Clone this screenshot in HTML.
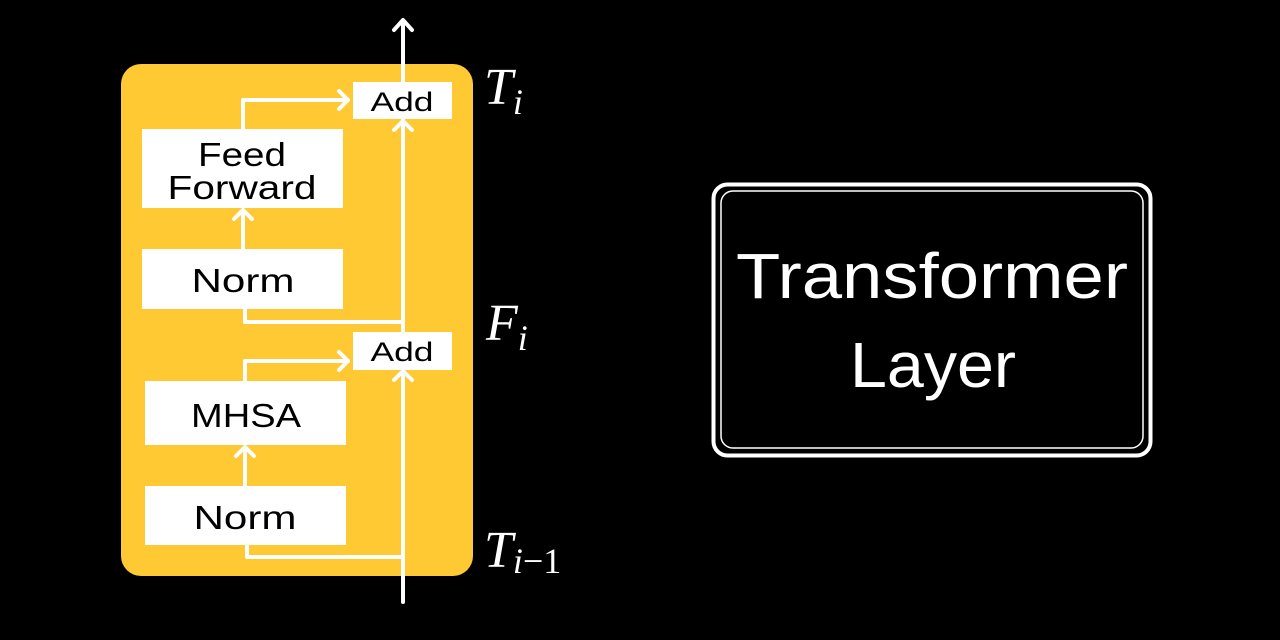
<!DOCTYPE html>
<html><head><meta charset="utf-8"><style>
html,body{margin:0;padding:0;background:#000;}
svg{display:block;}
</style></head><body>
<svg width="1280" height="640" viewBox="0 0 1280 640" xmlns="http://www.w3.org/2000/svg">
<rect x="0" y="0" width="1280" height="640" fill="#000"/>
<rect x="121" y="64" width="352" height="512" rx="20" fill="#FFC934"/>
<g stroke="#fff" stroke-width="4" fill="none" stroke-linecap="round" stroke-linejoin="round">
  <path d="M403 602 V22"/>
  <path d="M394 30 L403 20 L412 30"/>
  <path d="M394 130 L403 121 L412 130"/>
  <path d="M394 380 L403 371 L412 380"/>
  <path d="M245 309 V322 H403"/>
  <path d="M243 129 V100 H348"/>
  <path d="M339 91 L348 100 L339 109"/>
  <path d="M243 249 V211"/>
  <path d="M234 219 L243 210 L252 219"/>
  <path d="M247 545 V557 H403"/>
  <path d="M245 381 V361 H348"/>
  <path d="M339 352 L348 361 L339 370"/>
  <path d="M245 486 V448"/>
  <path d="M236 456 L245 447 L254 456"/>
</g>
<g fill="#fff">
  <rect x="353" y="82" width="99" height="37"/>
  <rect x="353" y="332" width="99" height="38"/>
  <rect x="142" y="129" width="201" height="79"/>
  <rect x="142" y="249" width="201" height="60"/>
  <rect x="145" y="381" width="201" height="64"/>
  <rect x="145" y="486" width="201" height="59"/>
</g>
<g font-family="'Liberation Sans', sans-serif" fill="#000" text-anchor="middle">
  <text x="402" y="111" font-size="27" textLength="63" lengthAdjust="spacingAndGlyphs">Add</text>
  <text x="402" y="361" font-size="27" textLength="63" lengthAdjust="spacingAndGlyphs">Add</text>
  <text x="242" y="166" font-size="33" textLength="88" lengthAdjust="spacingAndGlyphs">Feed</text>
  <text x="242" y="199" font-size="33" textLength="149" lengthAdjust="spacingAndGlyphs">Forward</text>
  <text x="243" y="292" font-size="33" textLength="103" lengthAdjust="spacingAndGlyphs">Norm</text>
  <text x="246" y="427" font-size="33" textLength="110" lengthAdjust="spacingAndGlyphs">MHSA</text>
  <text x="245" y="529" font-size="33" textLength="103" lengthAdjust="spacingAndGlyphs">Norm</text>
</g>
<g font-family="'Liberation Serif', serif" font-style="italic" fill="#fff">
  <text x="484" y="104" font-size="52">T<tspan font-size="36" dy="10">i</tspan></text>
  <text x="486" y="340" font-size="52">F<tspan font-size="36" dy="10">i</tspan></text>
  <text x="484" y="567" font-size="52">T<tspan font-size="36" dy="6">i<tspan font-style="normal">−1</tspan></tspan></text>
</g>
<rect x="713.5" y="184.5" width="437" height="271" rx="14" fill="none" stroke="#fff" stroke-width="4"/>
<rect x="721" y="191" width="422" height="257" rx="12" fill="none" stroke="#fff" stroke-width="1.5"/>
<g font-family="'Liberation Sans', sans-serif" fill="#fff" text-anchor="middle" font-size="64">
  <text x="932" y="298" textLength="392" lengthAdjust="spacingAndGlyphs">Transformer</text>
  <text x="933" y="387" textLength="166" lengthAdjust="spacingAndGlyphs">Layer</text>
</g>
</svg>
</body></html>
